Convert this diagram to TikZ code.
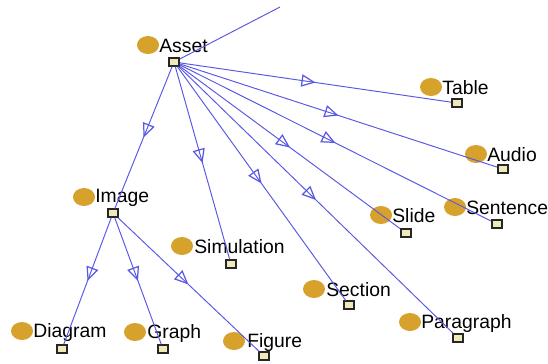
\documentclass[tikz,border=0pt]{standalone}
\usepackage{fontspec}
\setmainfont{Liberation Sans}
\usepackage{tikz}
\usetikzlibrary{positioning,arrows.meta,decorations.markings,shapes.geometric}
\definecolor{dotgold}{RGB}{214,162,44}
\definecolor{edgeblue}{RGB}{88,88,228}
\definecolor{boxfill}{RGB}{240,234,186}
\tikzset{classdot/.style={ellipse,fill=dotgold,minimum width=0.44cm,minimum height=0.36cm,inner sep=0pt},
  classname/.style={inner sep=0pt,font=\fontsize{11}{13}\selectfont,anchor=west},
  handle/.style={draw=black!85,fill=boxfill,line width=1pt,minimum width=0.21cm,minimum height=0.15cm,inner sep=0pt},
  isa/.style={draw=edgeblue,line width=0.55pt,postaction={decorate},
    decoration={markings,mark=at position 0.5 with {\arrow[edgeblue,line width=0.7pt]{Triangle[open,length=8pt,width=7pt]}}}}}

\begin{document}
\begin{tikzpicture}[x=0.02cm,y=-0.02cm]
    \useasboundingbox (0,0) rectangle (548,363);
    % classes: dot, name, handle
    \node[classdot] (asset) at (148,45) {};
    \node[classname] (asset-n) at (159,46) {Asset};
    \node[handle] (asset-h) at (174,62) {};
    \node[classdot] (table) at (431,87) {};
    \node[classname] (table-n) at (442,88) {Table};
    \node[handle] (table-h) at (457,103) {};
    \node[classdot] (audio) at (476,154) {};
    \node[classname] (audio-n) at (487,155) {Audio};
    \node[handle] (audio-h) at (503,169) {};
    \node[classdot] (sentence) at (455,207) {};
    \node[classname] (sentence-n) at (466,208) {Sentence};
    \node[handle] (sentence-h) at (497,224) {};
    \node[classdot] (slide) at (381,215) {};
    \node[classname] (slide-n) at (392,216) {Slide};
    \node[handle] (slide-h) at (406,233) {};
    \node[classdot] (image) at (84,197) {};
    \node[classname] (image-n) at (95,198) {Image};
    \node[handle] (image-h) at (113,213) {};
    \node[classdot] (simulation) at (182,246) {};
    \node[classname] (simulation-n) at (194,247) {Simulation};
    \node[handle] (simulation-h) at (231,264) {};
    \node[classdot] (section) at (314,289) {};
    \node[classname] (section-n) at (326,290) {Section};
    \node[handle] (section-h) at (349,305) {};
    \node[classdot] (paragraph) at (410,322) {};
    \node[classname] (paragraph-n) at (421,323) {Paragraph};
    \node[handle] (paragraph-h) at (458,338) {};
    \node[classdot] (diagram) at (22,331) {};
    \node[classname] (diagram-n) at (33,332) {Diagram};
    \node[handle] (diagram-h) at (62,349) {};
    \node[classdot] (graph) at (135,332) {};
    \node[classname] (graph-n) at (147,333) {Graph};
    \node[handle] (graph-h) at (163,349) {};
    \node[classdot] (figure) at (234,341) {};
    \node[classname] (figure-n) at (247,342) {Figure};
    \node[handle] (figure-h) at (264,356) {};
    \coordinate (up) at (280,7);
    % subclass edges
    \draw[draw=edgeblue,line width=0.55pt] (asset-h) -- (up);
    \foreach \c in {table,audio,sentence,slide,image,simulation,section,paragraph}
        \draw[isa] (asset-h) -- (\c-h);
    \foreach \c in {diagram,graph,figure}
        \draw[isa] (image-h) -- (\c-h);
\end{tikzpicture}
\end{document}
